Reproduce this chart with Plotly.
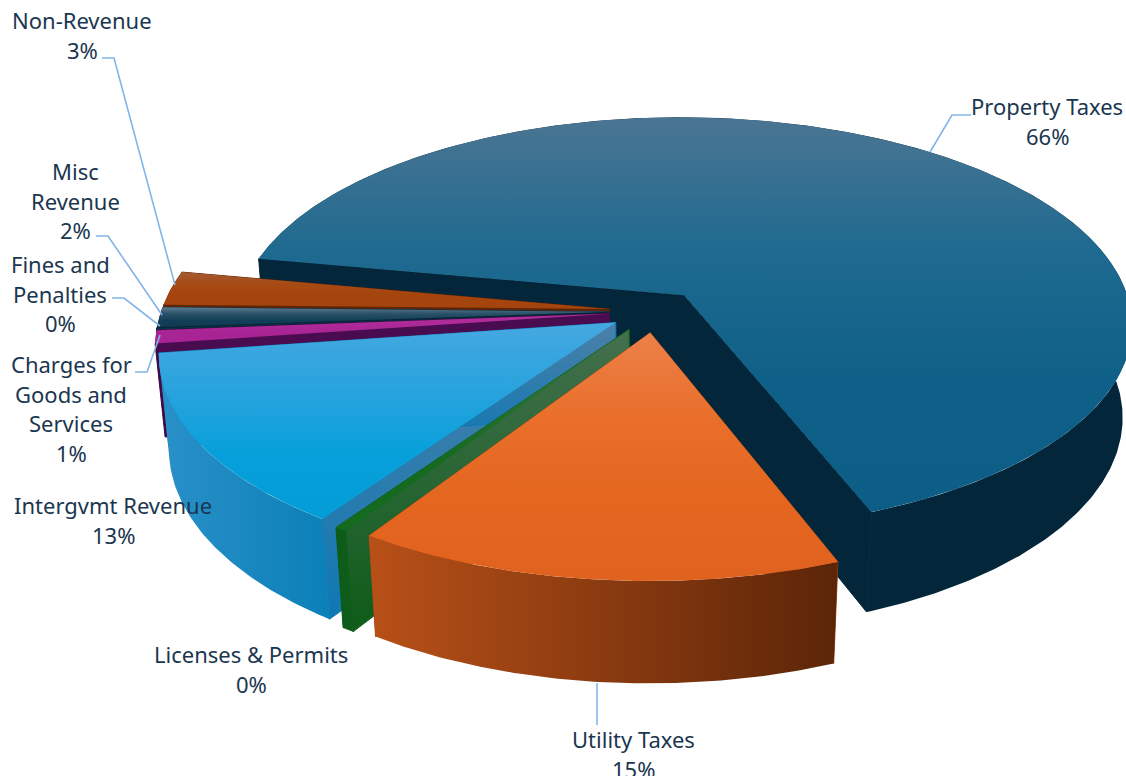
import numpy as np
import plotly.graph_objects as go

# Revenue shares in percent, clockwise from the largest slice
categories = ["Property Taxes", "Utility Taxes", "Licenses & Permits", "Intergvmt Revenue",
              "Charges for Goods and Services", "Fines and Penalties", "Misc Revenue", "Non-Revenue"]
shares = [66.2, 15.0, 0.4, 13.2, 1.0, 0.1, 1.5, 2.6]

# Label text split over lines, centre position of the first line
label_lines = [["Property Taxes"], ["Utility Taxes"], ["Licenses & Permits"], ["Intergvmt Revenue"],
               ["Charges for", "Goods and", "Services"], ["Fines and", "Penalties"],
               ["Misc", "Revenue"], ["Non-Revenue"]]
label_xy = [(1047, 106), (633, 739), (251, 654), (113, 505), (71, 364), (60, 264), (75, 171), (82, 20)]

# Leader lines from label to slice
leaders = [[(971, 115), (952, 115), (930, 152)],
           [(597, 683), (597, 725)],
           [(96, 236), (108, 236), (162, 315)],
           [(102, 58), (114, 58), (175, 285)],
           [(112, 298), (124, 298), (160, 326)],
           [(135, 372), (147, 372), (160, 335)]]

# Colour ramps per slice, first colour at the top of the face
top_ramps = [["#4b7592", "#1f6a90", "#0f6088", "#0d5e86"],
             ["#ec8049", "#e96f2b", "#e4661f", "#e0621f"],
             ["#3a6e46", "#27702f", "#146a1e", "#146a1e"],
             ["#45a8e0", "#2aa3de", "#07a0da", "#049cd6"],
             ["#b0309c", "#ad2a98", "#a82494", "#a82494"],
             ["#0c3247", "#0c3247", "#0c3247", "#0c3247"],
             ["#5b7d92", "#295067", "#123f58", "#0f3a52"],
             ["#a45a32", "#a64a14", "#a5440c", "#a5440c"]]
wall_ramps = [["#03263a", "#03263a"],
              ["#b85018", "#5c2508"],
              ["#0e5c1a", "#0e5c1a"],
              ["#2a90c8", "#0b80b8"],
              ["#3f0a45", "#3f0a45"],
              ["#062234", "#062234"],
              ["#0a2b3f", "#0a2b3f"],
              ["#5d2608", "#5d2608"]]
cut_ramps = [["#03263a", "#03263a"],
             ["#b5561d", "#a84c16"],
             ["#44704e", "#0e5c1a"],
             ["#4c80a8", "#0f78b4"],
             ["#4a0c50", "#4a0c50"],
             ["#062234", "#062234"],
             ["#0a2b3f", "#0a2b3f"],
             ["#5d2608", "#5d2608"]]

# Projection of the extruded pie
CX, CY = 655.0, 311.3
RADIUS = 448.0
EXPLODE = 46.0
FLATTEN = 0.462
DEPTH = 94.0
PERSP = 0.0003125
PERSP_DEPTH = 0.02
START_DEG = 169.4


def project(x, y, d):
    w = 1 + PERSP * y + PERSP_DEPTH * d
    return CX + x / w, CY + (-FLATTEN * y + DEPTH * d) / w


def add_poly(fig, name, xs, ys, colors, orient, edge=0.0):
    style = dict(x=list(xs) + [xs[0]], y=list(ys) + [ys[0]], mode="lines", name=name,
                 line=dict(width=edge, color=colors[-1]), fill="toself", fillcolor=colors[-1],
                 hoverinfo="skip", showlegend=False)
    if len(set(colors)) > 1:
        # A vertical gradient runs from the trace's lowest y value, so flip the ramp to start at the top
        stops = colors[::-1] if orient == "vertical" else colors
        n = len(stops) - 1
        style["fillgradient"] = dict(type=orient,
                                     colorscale=[[k / n, c] for k, c in enumerate(stops)])
    fig.add_trace(go.Scatter(**style))


total = sum(shares)
spans = [360.0 * s / total for s in shares]
starts = START_DEG - np.cumsum([0] + spans[:-1])

fig = go.Figure()

# Back-to-front drawing order so nearer slices overlap farther ones
paint_order = [0, 7, 6, 5, 4, 3, 2, 1]
for i in paint_order:
    a0 = np.radians(starts[i])
    a1 = np.radians(starts[i] - spans[i])
    mid = (a0 + a1) / 2
    ox, oy = EXPLODE * np.cos(mid), EXPLODE * np.sin(mid)
    ang = np.linspace(a0, a1, max(8, int(spans[i] * 2)))
    rx = ox + RADIUS * np.cos(ang)
    ry = oy + RADIUS * np.sin(ang)

    top_rim = project(rx, ry, 0)
    low_rim = project(rx, ry, 1)
    apex_top = project(ox, oy, 0)
    apex_low = project(ox, oy, 1)

    # Cut walls on both radial edges; the thin edge closes hairline gaps where walls meet
    for k, tag in ((0, "cut start"), (-1, "cut end")):
        add_poly(fig, f"{categories[i]} {tag}",
                 [apex_top[0], top_rim[0][k], low_rim[0][k], apex_low[0]],
                 [apex_top[1], top_rim[1][k], low_rim[1][k], apex_low[1]],
                 cut_ramps[i], "vertical", edge=1.0)

    # Curved outer wall
    add_poly(fig, f"{categories[i]} wall",
             np.r_[top_rim[0], low_rim[0][::-1]],
             np.r_[top_rim[1], low_rim[1][::-1]],
             wall_ramps[i], "horizontal")

    # Top face
    add_poly(fig, categories[i],
             np.r_[apex_top[0], top_rim[0]],
             np.r_[apex_top[1], top_rim[1]],
             top_ramps[i], "vertical")

for path in leaders:
    fig.add_trace(go.Scatter(x=[p[0] for p in path], y=[p[1] for p in path], mode="lines",
                             line=dict(color="#82b6e8", width=1.6),
                             hoverinfo="skip", showlegend=False))

TEXT = "#1b3650"
LINE_STEP = 29.6
for lines, share, (lx, ly) in zip(label_lines, shares, label_xy):
    rows = lines + [f"{round(share)}%"]
    for n, row in enumerate(rows):
        fig.add_annotation(x=lx, y=ly + n * LINE_STEP, text=row, showarrow=False,
                           xanchor="center", yanchor="middle",
                           font=dict(family="Noto Sans", size=22, color=TEXT))

fig.update_layout(
    width=1126, height=776, margin=dict(l=0, r=0, t=0, b=0),
    paper_bgcolor="white", plot_bgcolor="white", showlegend=False,
    xaxis=dict(range=[0, 1126], visible=False, fixedrange=True),
    yaxis=dict(range=[776, 0], visible=False, fixedrange=True),
)
fig.write_html("out.html")
